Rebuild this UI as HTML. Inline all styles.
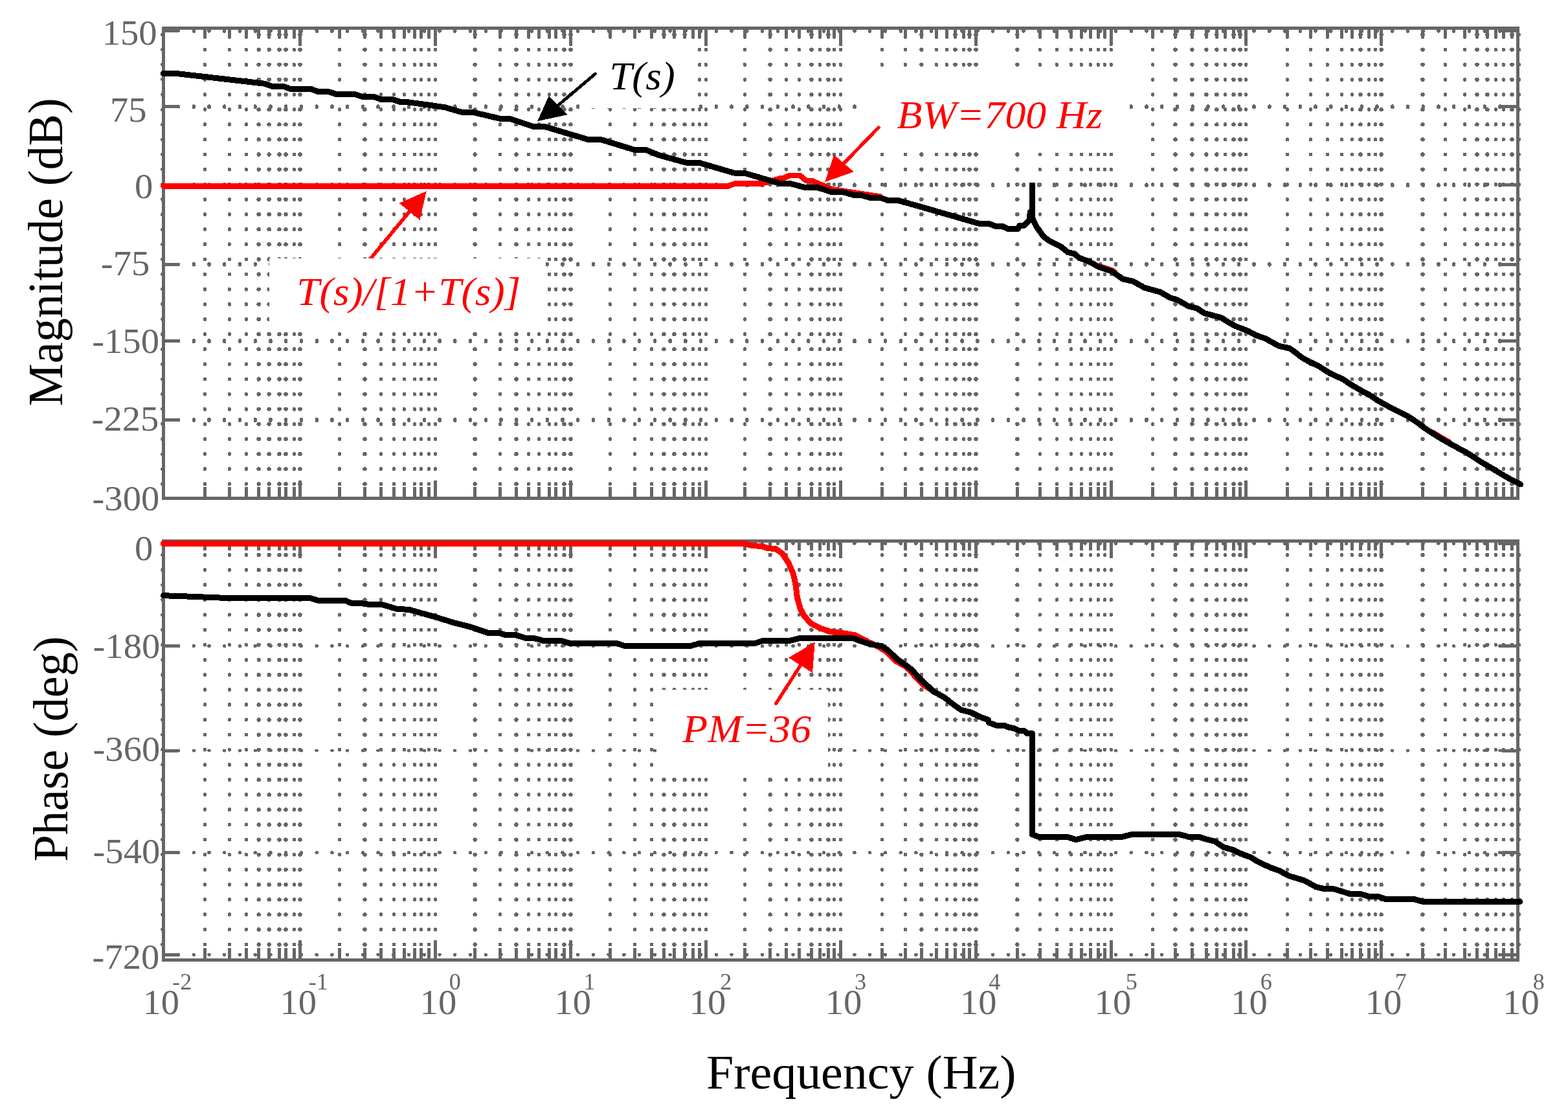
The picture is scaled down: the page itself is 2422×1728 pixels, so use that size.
<!DOCTYPE html>
<html lang="en">
<head>
<meta charset="utf-8">
<title>Bode plot</title>
<style>html,body{margin:0;padding:0;background:#fff}body{width:2422px;height:1728px;overflow:hidden}svg{display:block}text{white-space:pre}</style>
</head>
<body>
<svg width="2422" height="1728" viewBox="0 0 2422 1728" shape-rendering="crispEdges" font-family="'Liberation Serif', 'DejaVu Serif', serif">
<rect width="2422" height="1728" fill="#fff"/>
<path d="M251 53.2V763.9M316.5 53.2V763.9M354.4 53.2V763.9M380.4 53.2V763.9M454.4 53.2V763.9M524.5 53.2V763.9M588.5 53.2V763.9M608.5 53.2V763.9M624.5 53.2V763.9M640.4 53.2V763.9M650.5 53.2V763.9M662.4 53.2V763.9M672.5 53.2V763.9M772.5 53.2V763.9M816.4 53.2V763.9M832.5 53.2V763.9M848.5 53.2V763.9M858.5 53.2V763.9M942.4 53.2V763.9M980.5 53.2V763.9M1006.5 53.2V763.9M1070.5 53.2V763.9M1080.6 53.2V763.9M1090.5 53.2V763.9M1150.5 53.2V763.9M1214.5 53.2V763.9M1234.4 53.2V763.9M1266.5 53.2V763.9M1288.5 53.2V763.9M1298.5 53.2V763.9M1362.5 53.2V763.9M1398.5 53.2V763.9M1446.4 53.2V763.9M1462.5 53.2V763.9M1488.5 53.2V763.9M1606.4 53.2V763.9M1632.5 53.2V763.9M1654.5 53.2V763.9M1670.4 53.2V763.9M1684.5 53.2V763.9M1696.5 53.2V763.9M1706.5 53.2V763.9M1716.4 53.2V763.9M1780.5 53.2V763.9M1892.5 53.2V763.9M1924.6 53.2V763.9M1988.5 53.2V763.9M2024.5 53.2V763.9M2050.5 53.2V763.9M2072.5 53.2V763.9M2088.4 53.2V763.9M2114.5 53.2V763.9M2124.5 53.2V763.9M2232.5 53.2V763.9M2262.6 53.2V763.9M2310.4 53.2V763.9M2322.4 53.2V763.9M2346.3 53.2V763.9" fill="none" stroke="#666666" stroke-width="5.3" stroke-linecap="round" stroke-dasharray="0.600 22.530"/>
<path d="M399.6 53.5V763.9M415.6 53.5V763.9M431.5 53.5V763.9M441.5 53.5V763.9M463.5 53.5V763.9M563.5 53.5V763.9M733.6 53.5V763.9M797.5 53.5V763.9M871.5 53.5V763.9M881.5 53.5V763.9M1025.5 53.5V763.9M1041.5 53.5V763.9M1057.6 53.5V763.9M1189.6 53.5V763.9M1253.5 53.5V763.9M1279.5 53.5V763.9M1423.4 53.5V763.9M1475.5 53.5V763.9M1497.5 53.5V763.9M1507.5 53.5V763.9M1571.4 53.5V763.9M1815.5 53.5V763.9M1841.4 53.5V763.9M1863.4 53.5V763.9M1879.4 53.5V763.9M1905.5 53.5V763.9M1915.5 53.5V763.9M2101.5 53.5V763.9M2133.6 53.5V763.9M2197.5 53.5V763.9M2281.5 53.5V763.9M2297.4 53.5V763.9M2335.5 53.5V763.9" fill="none" stroke="#666666" stroke-width="6.4" stroke-linecap="round" stroke-dasharray="0.010 23.120"/>
<path d="M299.3 46.5v1.6M323 46.5v1.6M346.7 46.5v1.6M370.5 46.5v1.6M394.2 46.5v1.6M418 46.5v1.6M441.7 46.5v1.6M465.4 46.5v1.6M489.2 46.5v1.6M512.9 46.5v1.6M536.6 46.5v1.6M560.4 46.5v1.6M584.1 46.5v1.6M607.9 46.5v1.6M631.6 46.5v1.6M655.3 46.5v1.6M679.1 46.5v1.6M702.8 46.5v1.6M726.5 46.5v1.6M750.3 46.5v1.6M774 46.5v1.6M797.8 46.5v1.6M821.5 46.5v1.6M845.2 46.5v1.6M869 46.5v1.6M892.7 46.5v1.6M916.4 46.5v1.6M940.2 46.5v1.6M963.9 46.5v1.6M987.6 46.5v1.6M1011.4 46.5v1.6M1035.1 46.5v1.6M1058.9 46.5v1.6M1082.6 46.5v1.6M1106.3 46.5v1.6M1130.1 46.5v1.6M1153.8 46.5v1.6M1177.5 46.5v1.6M1201.3 46.5v1.6M1225 46.5v1.6M1248.8 46.5v1.6M1272.5 46.5v1.6M1296.2 46.5v1.6M1320 46.5v1.6M1343.7 46.5v1.6M1367.4 46.5v1.6M1391.2 46.5v1.6M1414.9 46.5v1.6M1438.6 46.5v1.6M1462.4 46.5v1.6M1486.1 46.5v1.6M1509.9 46.5v1.6M1533.6 46.5v1.6M1557.3 46.5v1.6M1581.1 46.5v1.6M1604.8 46.5v1.6M1628.5 46.5v1.6M1652.3 46.5v1.6M1676 46.5v1.6M1699.8 46.5v1.6M1723.5 46.5v1.6M1747.2 46.5v1.6M1771 46.5v1.6M1794.7 46.5v1.6M1818.4 46.5v1.6M1842.2 46.5v1.6M1865.9 46.5v1.6M1889.7 46.5v1.6M1913.4 46.5v1.6M1937.1 46.5v1.6M1960.9 46.5v1.6M1984.6 46.5v1.6M2008.3 46.5v1.6M2032.1 46.5v1.6M2055.8 46.5v1.6M2079.5 46.5v1.6M2103.3 46.5v1.6M2127 46.5v1.6M2150.8 46.5v1.6M2174.5 46.5v1.6M2198.2 46.5v1.6M2222 46.5v1.6M2245.7 46.5v1.6M2269.4 46.5v1.6M2293.2 46.5v1.6M2316.9 46.5v1.6M299.3 164.1v1.6M323 164.1v1.6M346.7 164.1v1.6M370.5 164.1v1.6M394.2 164.1v1.6M418 164.1v1.6M441.7 164.1v1.6M465.4 164.1v1.6M489.2 164.1v1.6M512.9 164.1v1.6M536.6 164.1v1.6M560.4 164.1v1.6M584.1 164.1v1.6M607.9 164.1v1.6M631.6 164.1v1.6M655.3 164.1v1.6M679.1 164.1v1.6M702.8 164.1v1.6M726.5 164.1v1.6M750.3 164.1v1.6M774 164.1v1.6M797.8 164.1v1.6M821.5 164.1v1.6M845.2 164.1v1.6M869 164.1v1.6M892.7 164.1v1.6M916.4 164.1v1.6M940.2 164.1v1.6M963.9 164.1v1.6M987.6 164.1v1.6M1011.4 164.1v1.6M1035.1 164.1v1.6M1058.9 164.1v1.6M1082.6 164.1v1.6M1106.3 164.1v1.6M1130.1 164.1v1.6M1153.8 164.1v1.6M1177.5 164.1v1.6M1201.3 164.1v1.6M1225 164.1v1.6M1248.8 164.1v1.6M1272.5 164.1v1.6M1296.2 164.1v1.6M1320 164.1v1.6M1343.7 164.1v1.6M1367.4 164.1v1.6M1391.2 164.1v1.6M1414.9 164.1v1.6M1438.6 164.1v1.6M1462.4 164.1v1.6M1486.1 164.1v1.6M1509.9 164.1v1.6M1533.6 164.1v1.6M1557.3 164.1v1.6M1581.1 164.1v1.6M1604.8 164.1v1.6M1628.5 164.1v1.6M1652.3 164.1v1.6M1676 164.1v1.6M1699.8 164.1v1.6M1723.5 164.1v1.6M1747.2 164.1v1.6M1771 164.1v1.6M1794.7 164.1v1.6M1818.4 164.1v1.6M1842.2 164.1v1.6M1865.9 164.1v1.6M1889.7 164.1v1.6M1913.4 164.1v1.6M1937.1 164.1v1.6M1960.9 164.1v1.6M1984.6 164.1v1.6M2008.3 164.1v1.6M2032.1 164.1v1.6M2055.8 164.1v1.6M2079.5 164.1v1.6M2103.3 164.1v1.6M2127 164.1v1.6M2150.8 164.1v1.6M2174.5 164.1v1.6M2198.2 164.1v1.6M2222 164.1v1.6M2245.7 164.1v1.6M2269.4 164.1v1.6M2293.2 164.1v1.6M2316.9 164.1v1.6M299.3 284.9v1.6M323 284.9v1.6M346.7 284.9v1.6M370.5 284.9v1.6M394.2 284.9v1.6M418 284.9v1.6M441.7 284.9v1.6M465.4 284.9v1.6M489.2 284.9v1.6M512.9 284.9v1.6M536.6 284.9v1.6M560.4 284.9v1.6M584.1 284.9v1.6M607.9 284.9v1.6M631.6 284.9v1.6M655.3 284.9v1.6M679.1 284.9v1.6M702.8 284.9v1.6M726.5 284.9v1.6M750.3 284.9v1.6M774 284.9v1.6M797.8 284.9v1.6M821.5 284.9v1.6M845.2 284.9v1.6M869 284.9v1.6M892.7 284.9v1.6M916.4 284.9v1.6M940.2 284.9v1.6M963.9 284.9v1.6M987.6 284.9v1.6M1011.4 284.9v1.6M1035.1 284.9v1.6M1058.9 284.9v1.6M1082.6 284.9v1.6M1106.3 284.9v1.6M1130.1 284.9v1.6M1153.8 284.9v1.6M1177.5 284.9v1.6M1201.3 284.9v1.6M1225 284.9v1.6M1248.8 284.9v1.6M1272.5 284.9v1.6M1296.2 284.9v1.6M1320 284.9v1.6M1343.7 284.9v1.6M1367.4 284.9v1.6M1391.2 284.9v1.6M1414.9 284.9v1.6M1438.6 284.9v1.6M1462.4 284.9v1.6M1486.1 284.9v1.6M1509.9 284.9v1.6M1533.6 284.9v1.6M1557.3 284.9v1.6M1581.1 284.9v1.6M1604.8 284.9v1.6M1628.5 284.9v1.6M1652.3 284.9v1.6M1676 284.9v1.6M1699.8 284.9v1.6M1723.5 284.9v1.6M1747.2 284.9v1.6M1771 284.9v1.6M1794.7 284.9v1.6M1818.4 284.9v1.6M1842.2 284.9v1.6M1865.9 284.9v1.6M1889.7 284.9v1.6M1913.4 284.9v1.6M1937.1 284.9v1.6M1960.9 284.9v1.6M1984.6 284.9v1.6M2008.3 284.9v1.6M2032.1 284.9v1.6M2055.8 284.9v1.6M2079.5 284.9v1.6M2103.3 284.9v1.6M2127 284.9v1.6M2150.8 284.9v1.6M2174.5 284.9v1.6M2198.2 284.9v1.6M2222 284.9v1.6M2245.7 284.9v1.6M2269.4 284.9v1.6M2293.2 284.9v1.6M2316.9 284.9v1.6M299.3 407.3v1.6M323 407.3v1.6M346.7 407.3v1.6M370.5 407.3v1.6M394.2 407.3v1.6M418 407.3v1.6M441.7 407.3v1.6M465.4 407.3v1.6M489.2 407.3v1.6M512.9 407.3v1.6M536.6 407.3v1.6M560.4 407.3v1.6M584.1 407.3v1.6M607.9 407.3v1.6M631.6 407.3v1.6M655.3 407.3v1.6M679.1 407.3v1.6M702.8 407.3v1.6M726.5 407.3v1.6M750.3 407.3v1.6M774 407.3v1.6M797.8 407.3v1.6M821.5 407.3v1.6M845.2 407.3v1.6M869 407.3v1.6M892.7 407.3v1.6M916.4 407.3v1.6M940.2 407.3v1.6M963.9 407.3v1.6M987.6 407.3v1.6M1011.4 407.3v1.6M1035.1 407.3v1.6M1058.9 407.3v1.6M1082.6 407.3v1.6M1106.3 407.3v1.6M1130.1 407.3v1.6M1153.8 407.3v1.6M1177.5 407.3v1.6M1201.3 407.3v1.6M1225 407.3v1.6M1248.8 407.3v1.6M1272.5 407.3v1.6M1296.2 407.3v1.6M1320 407.3v1.6M1343.7 407.3v1.6M1367.4 407.3v1.6M1391.2 407.3v1.6M1414.9 407.3v1.6M1438.6 407.3v1.6M1462.4 407.3v1.6M1486.1 407.3v1.6M1509.9 407.3v1.6M1533.6 407.3v1.6M1557.3 407.3v1.6M1581.1 407.3v1.6M1604.8 407.3v1.6M1628.5 407.3v1.6M1652.3 407.3v1.6M1676 407.3v1.6M1699.8 407.3v1.6M1723.5 407.3v1.6M1747.2 407.3v1.6M1771 407.3v1.6M1794.7 407.3v1.6M1818.4 407.3v1.6M1842.2 407.3v1.6M1865.9 407.3v1.6M1889.7 407.3v1.6M1913.4 407.3v1.6M1937.1 407.3v1.6M1960.9 407.3v1.6M1984.6 407.3v1.6M2008.3 407.3v1.6M2032.1 407.3v1.6M2055.8 407.3v1.6M2079.5 407.3v1.6M2103.3 407.3v1.6M2127 407.3v1.6M2150.8 407.3v1.6M2174.5 407.3v1.6M2198.2 407.3v1.6M2222 407.3v1.6M2245.7 407.3v1.6M2269.4 407.3v1.6M2293.2 407.3v1.6M2316.9 407.3v1.6M299.3 525.8v1.6M323 525.8v1.6M346.7 525.8v1.6M370.5 525.8v1.6M394.2 525.8v1.6M418 525.8v1.6M441.7 525.8v1.6M465.4 525.8v1.6M489.2 525.8v1.6M512.9 525.8v1.6M536.6 525.8v1.6M560.4 525.8v1.6M584.1 525.8v1.6M607.9 525.8v1.6M631.6 525.8v1.6M655.3 525.8v1.6M679.1 525.8v1.6M702.8 525.8v1.6M726.5 525.8v1.6M750.3 525.8v1.6M774 525.8v1.6M797.8 525.8v1.6M821.5 525.8v1.6M845.2 525.8v1.6M869 525.8v1.6M892.7 525.8v1.6M916.4 525.8v1.6M940.2 525.8v1.6M963.9 525.8v1.6M987.6 525.8v1.6M1011.4 525.8v1.6M1035.1 525.8v1.6M1058.9 525.8v1.6M1082.6 525.8v1.6M1106.3 525.8v1.6M1130.1 525.8v1.6M1153.8 525.8v1.6M1177.5 525.8v1.6M1201.3 525.8v1.6M1225 525.8v1.6M1248.8 525.8v1.6M1272.5 525.8v1.6M1296.2 525.8v1.6M1320 525.8v1.6M1343.7 525.8v1.6M1367.4 525.8v1.6M1391.2 525.8v1.6M1414.9 525.8v1.6M1438.6 525.8v1.6M1462.4 525.8v1.6M1486.1 525.8v1.6M1509.9 525.8v1.6M1533.6 525.8v1.6M1557.3 525.8v1.6M1581.1 525.8v1.6M1604.8 525.8v1.6M1628.5 525.8v1.6M1652.3 525.8v1.6M1676 525.8v1.6M1699.8 525.8v1.6M1723.5 525.8v1.6M1747.2 525.8v1.6M1771 525.8v1.6M1794.7 525.8v1.6M1818.4 525.8v1.6M1842.2 525.8v1.6M1865.9 525.8v1.6M1889.7 525.8v1.6M1913.4 525.8v1.6M1937.1 525.8v1.6M1960.9 525.8v1.6M1984.6 525.8v1.6M2008.3 525.8v1.6M2032.1 525.8v1.6M2055.8 525.8v1.6M2079.5 525.8v1.6M2103.3 525.8v1.6M2127 525.8v1.6M2150.8 525.8v1.6M2174.5 525.8v1.6M2198.2 525.8v1.6M2222 525.8v1.6M2245.7 525.8v1.6M2269.4 525.8v1.6M2293.2 525.8v1.6M2316.9 525.8v1.6M299.3 647.7v1.6M323 647.7v1.6M346.7 647.7v1.6M370.5 647.7v1.6M394.2 647.7v1.6M418 647.7v1.6M441.7 647.7v1.6M465.4 647.7v1.6M489.2 647.7v1.6M512.9 647.7v1.6M536.6 647.7v1.6M560.4 647.7v1.6M584.1 647.7v1.6M607.9 647.7v1.6M631.6 647.7v1.6M655.3 647.7v1.6M679.1 647.7v1.6M702.8 647.7v1.6M726.5 647.7v1.6M750.3 647.7v1.6M774 647.7v1.6M797.8 647.7v1.6M821.5 647.7v1.6M845.2 647.7v1.6M869 647.7v1.6M892.7 647.7v1.6M916.4 647.7v1.6M940.2 647.7v1.6M963.9 647.7v1.6M987.6 647.7v1.6M1011.4 647.7v1.6M1035.1 647.7v1.6M1058.9 647.7v1.6M1082.6 647.7v1.6M1106.3 647.7v1.6M1130.1 647.7v1.6M1153.8 647.7v1.6M1177.5 647.7v1.6M1201.3 647.7v1.6M1225 647.7v1.6M1248.8 647.7v1.6M1272.5 647.7v1.6M1296.2 647.7v1.6M1320 647.7v1.6M1343.7 647.7v1.6M1367.4 647.7v1.6M1391.2 647.7v1.6M1414.9 647.7v1.6M1438.6 647.7v1.6M1462.4 647.7v1.6M1486.1 647.7v1.6M1509.9 647.7v1.6M1533.6 647.7v1.6M1557.3 647.7v1.6M1581.1 647.7v1.6M1604.8 647.7v1.6M1628.5 647.7v1.6M1652.3 647.7v1.6M1676 647.7v1.6M1699.8 647.7v1.6M1723.5 647.7v1.6M1747.2 647.7v1.6M1771 647.7v1.6M1794.7 647.7v1.6M1818.4 647.7v1.6M1842.2 647.7v1.6M1865.9 647.7v1.6M1889.7 647.7v1.6M1913.4 647.7v1.6M1937.1 647.7v1.6M1960.9 647.7v1.6M1984.6 647.7v1.6M2008.3 647.7v1.6M2032.1 647.7v1.6M2055.8 647.7v1.6M2079.5 647.7v1.6M2103.3 647.7v1.6M2127 647.7v1.6M2150.8 647.7v1.6M2174.5 647.7v1.6M2198.2 647.7v1.6M2222 647.7v1.6M2245.7 647.7v1.6M2269.4 647.7v1.6M2293.2 647.7v1.6M2316.9 647.7v1.6" fill="none" stroke="#666666" stroke-width="5.4" stroke-linecap="round"/>
<path d="M251 856.5V1476.4M316.5 856.5V1476.4M354.4 856.5V1476.4M380.4 856.5V1476.4M454.4 856.5V1476.4M524.5 856.5V1476.4M588.5 856.5V1476.4M608.5 856.5V1476.4M624.5 856.5V1476.4M640.4 856.5V1476.4M650.5 856.5V1476.4M662.4 856.5V1476.4M672.5 856.5V1476.4M772.5 856.5V1476.4M816.4 856.5V1476.4M832.5 856.5V1476.4M848.5 856.5V1476.4M858.5 856.5V1476.4M942.4 856.5V1476.4M980.5 856.5V1476.4M1006.5 856.5V1476.4M1070.5 856.5V1476.4M1080.6 856.5V1476.4M1090.5 856.5V1476.4M1150.5 856.5V1476.4M1214.5 856.5V1476.4M1234.4 856.5V1476.4M1266.5 856.5V1476.4M1288.5 856.5V1476.4M1298.5 856.5V1476.4M1362.5 856.5V1476.4M1398.5 856.5V1476.4M1446.4 856.5V1476.4M1462.5 856.5V1476.4M1488.5 856.5V1476.4M1606.4 856.5V1476.4M1632.5 856.5V1476.4M1654.5 856.5V1476.4M1670.4 856.5V1476.4M1684.5 856.5V1476.4M1696.5 856.5V1476.4M1706.5 856.5V1476.4M1716.4 856.5V1476.4M1780.5 856.5V1476.4M1892.5 856.5V1476.4M1924.6 856.5V1476.4M1988.5 856.5V1476.4M2024.5 856.5V1476.4M2050.5 856.5V1476.4M2072.5 856.5V1476.4M2088.4 856.5V1476.4M2114.5 856.5V1476.4M2124.5 856.5V1476.4M2232.5 856.5V1476.4M2262.6 856.5V1476.4M2310.4 856.5V1476.4M2322.4 856.5V1476.4M2346.3 856.5V1476.4" fill="none" stroke="#666666" stroke-width="5.2" stroke-linecap="round" stroke-dasharray="0.700 22.440"/>
<path d="M399.6 856.9V1476.4M415.6 856.9V1476.4M431.5 856.9V1476.4M441.5 856.9V1476.4M463.5 856.9V1476.4M563.5 856.9V1476.4M733.6 856.9V1476.4M797.5 856.9V1476.4M871.5 856.9V1476.4M881.5 856.9V1476.4M1025.5 856.9V1476.4M1041.5 856.9V1476.4M1057.6 856.9V1476.4M1189.6 856.9V1476.4M1253.5 856.9V1476.4M1279.5 856.9V1476.4M1423.4 856.9V1476.4M1475.5 856.9V1476.4M1497.5 856.9V1476.4M1507.5 856.9V1476.4M1571.4 856.9V1476.4M1815.5 856.9V1476.4M1841.4 856.9V1476.4M1863.4 856.9V1476.4M1879.4 856.9V1476.4M1905.5 856.9V1476.4M1915.5 856.9V1476.4M2101.5 856.9V1476.4M2133.6 856.9V1476.4M2197.5 856.9V1476.4M2281.5 856.9V1476.4M2297.4 856.9V1476.4M2335.5 856.9V1476.4" fill="none" stroke="#666666" stroke-width="6.3" stroke-linecap="round" stroke-dasharray="0.100 23.040"/>
<path d="M299 839.2H2338.7M299 997.6H2338.7M299 1159H2338.7M299 1316.7H2338.7M299 1474.2H2338.7" fill="none" stroke="#666666" stroke-width="5" stroke-linecap="round" stroke-dasharray="0.500 23.237"/>
<path d="M568.5 404L632.5 326.7" fill="none" stroke="#ff0000" stroke-width="5.6" stroke-linecap="round"/>
<path d="M658.7 295.3L616.5 313.7L648.5 339.7Z" fill="#ff0000"/>
<rect x="900" y="66" width="175" height="100.5" fill="#fff"/>
<rect x="1338" y="110" width="398" height="117" fill="#fff"/>
<rect x="416.2" y="399.4" width="422.8" height="105.6" fill="#fff"/>
<rect x="1015" y="1065.2" width="264" height="126.8" fill="#fff"/>
<rect x="252.5" y="43.9" width="2092.1" height="726" fill="none" stroke="#666666" stroke-width="4.9"/>
<path d="M316.5 43.9V57.3M354.4 43.9V57.3M380.4 43.9V57.3M399.6 43.9V57.3M415.6 43.9V57.3M431.5 43.9V57.3M441.5 43.9V57.3M454.4 43.9V57.3M463.5 43.9V68.8M524.5 43.9V57.3M563.5 43.9V57.3M588.5 43.9V57.3M608.5 43.9V57.3M624.5 43.9V57.3M640.4 43.9V57.3M650.5 43.9V57.3M662.4 43.9V57.3M672.5 43.9V68.8M733.6 43.9V57.3M772.5 43.9V57.3M797.5 43.9V57.3M816.4 43.9V57.3M832.5 43.9V57.3M848.5 43.9V57.3M858.5 43.9V57.3M871.5 43.9V57.3M881.5 43.9V68.8M942.4 43.9V57.3M980.5 43.9V57.3M1006.5 43.9V57.3M1025.5 43.9V57.3M1041.5 43.9V57.3M1057.6 43.9V57.3M1070.5 43.9V57.3M1080.6 43.9V57.3M1090.5 43.9V68.8M1150.5 43.9V57.3M1189.6 43.9V57.3M1214.5 43.9V57.3M1234.4 43.9V57.3M1253.5 43.9V57.3M1266.5 43.9V57.3M1279.5 43.9V57.3M1288.5 43.9V57.3M1298.5 43.9V68.8M1362.5 43.9V57.3M1398.5 43.9V57.3M1423.4 43.9V57.3M1446.4 43.9V57.3M1462.5 43.9V57.3M1475.5 43.9V57.3M1488.5 43.9V57.3M1497.5 43.9V57.3M1507.5 43.9V68.8M1571.4 43.9V57.3M1606.4 43.9V57.3M1632.5 43.9V57.3M1654.5 43.9V57.3M1670.4 43.9V57.3M1684.5 43.9V57.3M1696.5 43.9V57.3M1706.5 43.9V57.3M1716.4 43.9V68.8M1780.5 43.9V57.3M1815.5 43.9V57.3M1841.4 43.9V57.3M1863.4 43.9V57.3M1879.4 43.9V57.3M1892.5 43.9V57.3M1905.5 43.9V57.3M1915.5 43.9V57.3M1924.6 43.9V68.8M1988.5 43.9V57.3M2024.5 43.9V57.3M2050.5 43.9V57.3M2072.5 43.9V57.3M2088.4 43.9V57.3M2101.5 43.9V57.3M2114.5 43.9V57.3M2124.5 43.9V57.3M2133.6 43.9V68.8M2197.5 43.9V57.3M2232.5 43.9V57.3M2262.6 43.9V57.3M2281.5 43.9V57.3M2297.4 43.9V57.3M2310.4 43.9V57.3M2322.4 43.9V57.3M2335.5 43.9V57.3" fill="none" stroke="#666666" stroke-width="5.1" stroke-linecap="round"/>
<path d="M316.5 769.9V751.5M354.4 769.9V751.5M380.4 769.9V751.5M399.6 769.9V751.5M415.6 769.9V751.5M431.5 769.9V751.5M441.5 769.9V751.5M454.4 769.9V751.5M463.5 769.9V741.7M524.5 769.9V751.5M563.5 769.9V751.5M588.5 769.9V751.5M608.5 769.9V751.5M624.5 769.9V751.5M640.4 769.9V751.5M650.5 769.9V751.5M662.4 769.9V751.5M672.5 769.9V741.7M733.6 769.9V751.5M772.5 769.9V751.5M797.5 769.9V751.5M816.4 769.9V751.5M832.5 769.9V751.5M848.5 769.9V751.5M858.5 769.9V751.5M871.5 769.9V751.5M881.5 769.9V741.7M942.4 769.9V751.5M980.5 769.9V751.5M1006.5 769.9V751.5M1025.5 769.9V751.5M1041.5 769.9V751.5M1057.6 769.9V751.5M1070.5 769.9V751.5M1080.6 769.9V751.5M1090.5 769.9V741.7M1150.5 769.9V751.5M1189.6 769.9V751.5M1214.5 769.9V751.5M1234.4 769.9V751.5M1253.5 769.9V751.5M1266.5 769.9V751.5M1279.5 769.9V751.5M1288.5 769.9V751.5M1298.5 769.9V741.7M1362.5 769.9V751.5M1398.5 769.9V751.5M1423.4 769.9V751.5M1446.4 769.9V751.5M1462.5 769.9V751.5M1475.5 769.9V751.5M1488.5 769.9V751.5M1497.5 769.9V751.5M1507.5 769.9V741.7M1571.4 769.9V751.5M1606.4 769.9V751.5M1632.5 769.9V751.5M1654.5 769.9V751.5M1670.4 769.9V751.5M1684.5 769.9V751.5M1696.5 769.9V751.5M1706.5 769.9V751.5M1716.4 769.9V741.7M1780.5 769.9V751.5M1815.5 769.9V751.5M1841.4 769.9V751.5M1863.4 769.9V751.5M1879.4 769.9V751.5M1892.5 769.9V751.5M1905.5 769.9V751.5M1915.5 769.9V751.5M1924.6 769.9V741.7M1988.5 769.9V751.5M2024.5 769.9V751.5M2050.5 769.9V751.5M2072.5 769.9V751.5M2088.4 769.9V751.5M2101.5 769.9V751.5M2114.5 769.9V751.5M2124.5 769.9V751.5M2133.6 769.9V741.7M2197.5 769.9V751.5M2232.5 769.9V751.5M2262.6 769.9V751.5M2281.5 769.9V751.5M2297.4 769.9V751.5M2310.4 769.9V751.5M2322.4 769.9V751.5M2335.5 769.9V751.5" fill="none" stroke="#666666" stroke-width="4.7"/>
<path d="M252.5 47.3H276M2344.6 47.3H2320M252.5 164.9H276M2344.6 164.9H2320M252.5 285.7H276M2344.6 285.7H2320M252.5 408.1H276M2344.6 408.1H2320M252.5 526.6H276M2344.6 526.6H2320M252.5 648.5H276M2344.6 648.5H2320" fill="none" stroke="#666666" stroke-width="5" stroke-linecap="round"/>
<rect x="252.4" y="835.3" width="2092.3" height="647.1" fill="none" stroke="#666666" stroke-width="4.9"/>
<path d="M316.5 835.3V847.3M354.4 835.3V847.3M380.4 835.3V847.3M399.6 835.3V847.3M415.6 835.3V847.3M431.5 835.3V847.3M441.5 835.3V847.3M454.4 835.3V847.3M463.5 835.3V859.1M524.5 835.3V847.3M563.5 835.3V847.3M588.5 835.3V847.3M608.5 835.3V847.3M624.5 835.3V847.3M640.4 835.3V847.3M650.5 835.3V847.3M662.4 835.3V847.3M672.5 835.3V859.1M733.6 835.3V847.3M772.5 835.3V847.3M797.5 835.3V847.3M816.4 835.3V847.3M832.5 835.3V847.3M848.5 835.3V847.3M858.5 835.3V847.3M871.5 835.3V847.3M881.5 835.3V859.1M942.4 835.3V847.3M980.5 835.3V847.3M1006.5 835.3V847.3M1025.5 835.3V847.3M1041.5 835.3V847.3M1057.6 835.3V847.3M1070.5 835.3V847.3M1080.6 835.3V847.3M1090.5 835.3V859.1M1150.5 835.3V847.3M1189.6 835.3V847.3M1214.5 835.3V847.3M1234.4 835.3V847.3M1253.5 835.3V847.3M1266.5 835.3V847.3M1279.5 835.3V847.3M1288.5 835.3V847.3M1298.5 835.3V859.1M1362.5 835.3V847.3M1398.5 835.3V847.3M1423.4 835.3V847.3M1446.4 835.3V847.3M1462.5 835.3V847.3M1475.5 835.3V847.3M1488.5 835.3V847.3M1497.5 835.3V847.3M1507.5 835.3V859.1M1571.4 835.3V847.3M1606.4 835.3V847.3M1632.5 835.3V847.3M1654.5 835.3V847.3M1670.4 835.3V847.3M1684.5 835.3V847.3M1696.5 835.3V847.3M1706.5 835.3V847.3M1716.4 835.3V859.1M1780.5 835.3V847.3M1815.5 835.3V847.3M1841.4 835.3V847.3M1863.4 835.3V847.3M1879.4 835.3V847.3M1892.5 835.3V847.3M1905.5 835.3V847.3M1915.5 835.3V847.3M1924.6 835.3V859.1M1988.5 835.3V847.3M2024.5 835.3V847.3M2050.5 835.3V847.3M2072.5 835.3V847.3M2088.4 835.3V847.3M2101.5 835.3V847.3M2114.5 835.3V847.3M2124.5 835.3V847.3M2133.6 835.3V859.1M2197.5 835.3V847.3M2232.5 835.3V847.3M2262.6 835.3V847.3M2281.5 835.3V847.3M2297.4 835.3V847.3M2310.4 835.3V847.3M2322.4 835.3V847.3M2335.5 835.3V847.3" fill="none" stroke="#666666" stroke-width="4.9" stroke-linecap="square"/>
<path d="M316.5 1482.4V1464.3M354.4 1482.4V1464.3M380.4 1482.4V1464.3M399.6 1482.4V1464.3M415.6 1482.4V1464.3M431.5 1482.4V1464.3M441.5 1482.4V1464.3M454.4 1482.4V1464.3M463.5 1482.4V1452M524.5 1482.4V1464.3M563.5 1482.4V1464.3M588.5 1482.4V1464.3M608.5 1482.4V1464.3M624.5 1482.4V1464.3M640.4 1482.4V1464.3M650.5 1482.4V1464.3M662.4 1482.4V1464.3M672.5 1482.4V1452M733.6 1482.4V1464.3M772.5 1482.4V1464.3M797.5 1482.4V1464.3M816.4 1482.4V1464.3M832.5 1482.4V1464.3M848.5 1482.4V1464.3M858.5 1482.4V1464.3M871.5 1482.4V1464.3M881.5 1482.4V1452M942.4 1482.4V1464.3M980.5 1482.4V1464.3M1006.5 1482.4V1464.3M1025.5 1482.4V1464.3M1041.5 1482.4V1464.3M1057.6 1482.4V1464.3M1070.5 1482.4V1464.3M1080.6 1482.4V1464.3M1090.5 1482.4V1452M1150.5 1482.4V1464.3M1189.6 1482.4V1464.3M1214.5 1482.4V1464.3M1234.4 1482.4V1464.3M1253.5 1482.4V1464.3M1266.5 1482.4V1464.3M1279.5 1482.4V1464.3M1288.5 1482.4V1464.3M1298.5 1482.4V1452M1362.5 1482.4V1464.3M1398.5 1482.4V1464.3M1423.4 1482.4V1464.3M1446.4 1482.4V1464.3M1462.5 1482.4V1464.3M1475.5 1482.4V1464.3M1488.5 1482.4V1464.3M1497.5 1482.4V1464.3M1507.5 1482.4V1452M1571.4 1482.4V1464.3M1606.4 1482.4V1464.3M1632.5 1482.4V1464.3M1654.5 1482.4V1464.3M1670.4 1482.4V1464.3M1684.5 1482.4V1464.3M1696.5 1482.4V1464.3M1706.5 1482.4V1464.3M1716.4 1482.4V1452M1780.5 1482.4V1464.3M1815.5 1482.4V1464.3M1841.4 1482.4V1464.3M1863.4 1482.4V1464.3M1879.4 1482.4V1464.3M1892.5 1482.4V1464.3M1905.5 1482.4V1464.3M1915.5 1482.4V1464.3M1924.6 1482.4V1452M1988.5 1482.4V1464.3M2024.5 1482.4V1464.3M2050.5 1482.4V1464.3M2072.5 1482.4V1464.3M2088.4 1482.4V1464.3M2101.5 1482.4V1464.3M2114.5 1482.4V1464.3M2124.5 1482.4V1464.3M2133.6 1482.4V1452M2197.5 1482.4V1464.3M2232.5 1482.4V1464.3M2262.6 1482.4V1464.3M2281.5 1482.4V1464.3M2297.4 1482.4V1464.3M2310.4 1482.4V1464.3M2322.4 1482.4V1464.3M2335.5 1482.4V1464.3" fill="none" stroke="#666666" stroke-width="4.7"/>
<path d="M252.4 839.2H276M2344.7 839.2H2320M252.4 997.6H276M2344.7 997.6H2320M252.4 1159H276M2344.7 1159H2320M252.4 1316.7H276M2344.7 1316.7H2320M252.4 1474.2H276M2344.7 1474.2H2320" fill="none" stroke="#666666" stroke-width="5" stroke-linecap="round"/>
<path d="M252.4 287.3L1124.7 287.3L1135.7 283.5L1177.4 283.5L1203.8 275.8L1211.5 274.7L1219.2 271L1235.6 271L1245.5 279.1L1254.3 279.1L1285.1 292.4L1302.6 294.8L1359.8 303.6" fill="none" stroke="#ff0000" stroke-width="8.6" stroke-linejoin="round" stroke-linecap="round"/>
<path d="M1701 412L1717.8 417.6L1722 420.4" fill="none" stroke="#ff0000" stroke-width="8.6" stroke-linejoin="round" stroke-linecap="round"/>
<path d="M2214.8 668.7L2223 673.9L2238.7 683" fill="none" stroke="#ff0000" stroke-width="8.6" stroke-linejoin="round" stroke-linecap="round"/>
<path d="M252.3 113.4L271.6 113.4L408.7 129.2L421 133.6L438.6 133.6L449.1 137.6L480.8 137.6L491.3 141.5L507.1 141.5L519.4 145.4L547.6 145.4L559.9 149.4L577.4 149.4L588 153.3L605.6 153.3L617.9 157.3L628.6 157.6L661.5 162L687.9 165.9L714.2 173.6L731.8 173.6L771.4 183L786.7 183L824.1 195.6L841.7 195.6L907.6 215.3L927.3 215.3L980.1 231.4L997.6 231.4L1017.4 239.5L1061.3 251.6L1080.8 251.6L1133.5 267L1148.9 267L1203.8 283L1219.2 283L1241.1 289L1260.9 289L1285.1 296.7L1302.6 296.7L1318 301.1L1329 301.1L1344.4 305.4L1359.8 305.4L1370.7 309.2L1386.1 309.2L1423.5 319.7L1511.3 345L1526.7 345L1537.4 349.3L1548.1 349.3L1556.9 353.6L1572.3 353.6L1574.5 348.7L1581.1 348.7L1589.8 340L1591.5 327L1596.4 341.1L1600.8 349.8L1611.8 365.2L1620.6 371.8L1638.2 380.6L1649.2 389.4L1660.1 392L1666.7 398.2L1682.1 403.7L1697.5 412.4L1717.3 419L1734.8 431.1L1750.2 434.4L1767.8 444.3L1792 450.9L1807.3 459.7L1818.3 463L1835.9 472.9L1849.1 476.2L1860.2 483.6L1876 487.8L1886.8 490.8L1897.1 497.4L1907.6 503.2L1928.7 511.6L1939.3 517.4L1955.1 523L1965.6 529L1976.2 534.5L1992 537.8L2000 543.7L2011.6 552.5L2022.2 558.4L2038 566.1L2053.8 576.2L2074.9 585.9L2085.5 593.2L2106.5 605.3L2117.1 610.9L2127.6 618.2L2148.7 629.9L2169.8 640.2L2180.4 646.4L2190.9 653.6L2201.3 661.6L2222.2 675.1L2243.3 687.2L2264.4 698.3L2274.9 704.9L2285.5 712L2306.5 724.4L2327.6 737L2348.8 748" fill="none" stroke="#000" stroke-width="9" stroke-linejoin="round" stroke-linecap="round"/>
<path d="M1594.7 281.8L1594.7 340" fill="none" stroke="#000" stroke-width="8.8" stroke-linejoin="round" stroke-linecap="butt"/>
<path d="M252.4 839.4L1149.1 839.4L1161.4 842.6L1176.2 843.4L1186 846.6L1198.3 847.6L1208.1 854.4L1218 869.2L1225.4 886.4L1229.1 903.7L1231.5 923.3L1236.4 940.6L1242.6 951.6L1252.4 962.7L1267.2 970.1L1282 975.5L1301.6 977.6L1321.3 981L1341.8 991.7L1358 999.5L1369.5 1006.3L1384.2 1021L1399 1029.3L1405.1 1035.3L1420.1 1051.3L1428.1 1058.8L1440 1066" fill="none" stroke="#ff0000" stroke-width="9" stroke-linejoin="round" stroke-linecap="round"/>
<path d="M252.4 919.8L272 920.3L350.7 923.5L478.7 923.5L491 927.2L532.8 927.2L542.7 931.4L559.9 931.9L569.7 933.3L589.4 933.3L614 940.7L631.2 941.2L670.6 952.3L702.6 962.1L727.2 968.3L754.3 977.4L771.5 977.4L781.3 980.8L797.2 980.8L812 985.4L824.3 985.4L839 989.3L866.1 989.3L880.9 993.5L952.2 993.5L964.5 997.2L1067.9 997.2L1080.2 993.5L1166.3 993.5L1178.6 989.3L1220.5 989.3L1235.2 985.6L1317.2 985.6L1341.8 994.1L1361.5 997.8L1371.4 1004L1386.1 1018.2L1391.7 1021.8L1407 1033L1422 1049L1430 1056.5L1442.2 1068L1458 1076.6L1472.2 1087.6L1484.5 1096.3L1499.3 1099.9L1514.1 1107.3L1526.4 1111.5L1527.6 1115.9L1538.7 1120.1L1551 1120.1L1558.4 1123.3L1565.7 1124.5L1573.1 1128.2L1581.7 1128.2L1586.7 1132.7L1594.5 1132.7L1594.5 1288.6L1605.5 1292.7L1649.8 1292.7L1662.1 1296.7L1678.1 1292.7L1732.2 1292.7L1748.2 1288.6L1822.1 1288.6L1835.6 1292.2L1851.6 1292.2L1862.7 1295.9L1876.2 1299.1L1889.7 1308.2L1904.5 1312.4L1919.3 1319.3L1931.6 1323.7L1943.9 1331.1L1963.5 1340.2L1975.8 1344.4L1990.6 1352.5L2015.2 1359.9L2032.3 1369.4L2044.6 1372.4L2058.7 1372.4L2072.7 1376.5L2085 1380.3L2100.8 1380.3L2114.9 1384.4L2129 1384.4L2141.3 1388.8L2185.2 1388.8L2197.5 1392.3L2347.8 1392.3" fill="none" stroke="#000" stroke-width="9" stroke-linejoin="round" stroke-linecap="round"/>
<path d="M919.5 114L862.1 162.6" fill="none" stroke="#000" stroke-width="4.8" stroke-linecap="round"/>
<path d="M830.2 187.1L847.8 147.9L876.5 177.2Z" fill="#000"/>
<path d="M1356.9 197L1303.5 252.2" fill="none" stroke="#ff0000" stroke-width="5.4" stroke-linecap="round"/>
<path d="M1274.3 281L1288.2 239L1318.8 265.3Z" fill="#ff0000"/>
<path d="M1198.7 1086.4L1236.5 1027.3" fill="none" stroke="#ff0000" stroke-width="5.4" stroke-linecap="round"/>
<path d="M1258.7 991.5L1218.1 1015.7L1255 1039Z" fill="#ff0000"/>
<text transform="translate(941.4 137.9) scale(1.0300 1.0000)" font-size="61" font-style="italic" fill="#000" text-anchor="start" id="a_ts">T(s)</text>
<text transform="translate(1385.5 197.6) scale(1.0450 1.0000)" font-size="61" font-style="italic" fill="#ff0000" text-anchor="start" id="a_bw">BW=700 Hz</text>
<text transform="translate(458.3 470.5) scale(1.0400 1.0000)" font-size="61" font-style="italic" fill="#ff0000" text-anchor="start" id="a_cl">T(s)/[1+T(s)]</text>
<text transform="translate(1054.3 1145.5) scale(1.0450 1.0000)" font-size="61" font-style="italic" fill="#ff0000" text-anchor="start" id="a_pm">PM=36</text>
<text transform="translate(157.7 69) scale(1.0200 1.0000)" font-size="55.5" fill="#666666" text-anchor="start" id="y0">150</text>
<text transform="translate(169.9 187.8) scale(1.0200 1.0000)" font-size="55.5" fill="#666666" text-anchor="start" id="y1">75</text>
<text transform="translate(207.9 306.4) scale(1.0200 1.0000)" font-size="55.5" fill="#666666" text-anchor="start" id="y2">0</text>
<text transform="translate(155.8 425.4) scale(1.0200 1.0000)" font-size="55.5" fill="#666666" text-anchor="start" id="y3">-75</text>
<text transform="translate(142.2 545) scale(1.0200 1.0000)" font-size="55.5" fill="#666666" text-anchor="start" id="y4">-150</text>
<text transform="translate(141.6 665) scale(1.0200 1.0000)" font-size="55.5" fill="#666666" text-anchor="start" id="y5">-225</text>
<text transform="translate(142.5 787.5) scale(1.0200 1.0000)" font-size="55.5" fill="#666666" text-anchor="start" id="y6">-300</text>
<text transform="translate(207.9 865.1) scale(1.0200 1.0000)" font-size="55.5" fill="#666666" text-anchor="start" id="y7">0</text>
<text transform="translate(143.5 1015.5) scale(1.0200 1.0000)" font-size="55.5" fill="#666666" text-anchor="start" id="y8">-180</text>
<text transform="translate(143.5 1174.5) scale(1.0200 1.0000)" font-size="55.5" fill="#666666" text-anchor="start" id="y9">-360</text>
<text transform="translate(143.5 1332.5) scale(1.0200 1.0000)" font-size="55.5" fill="#666666" text-anchor="start" id="y10">-540</text>
<text transform="translate(142.6 1495.5) scale(1.0200 1.0000)" font-size="55.5" fill="#666666" text-anchor="start" id="y11">-720</text>
<text transform="translate(220.4 1565.5) scale(1.0200 1.0000)" font-size="55.5" fill="#666666" text-anchor="start" id="x10_0">10</text>
<text transform="translate(266.1 1527.6) scale(1.0200 1.0000)" font-size="35.5" fill="#666666" text-anchor="start" id="xe_0">-2</text>
<text transform="translate(432.4 1565.5) scale(1.0200 1.0000)" font-size="55.5" fill="#666666" text-anchor="start" id="x10_1">10</text>
<text transform="translate(476.8 1527.6) scale(1.0200 1.0000)" font-size="35.5" fill="#666666" text-anchor="start" id="xe_1">-1</text>
<text transform="translate(648.6 1565.5) scale(1.0200 1.0000)" font-size="55.5" fill="#666666" text-anchor="start" id="x10_2">10</text>
<text transform="translate(693.7 1527.6) scale(1.0200 1.0000)" font-size="35.5" fill="#666666" text-anchor="start" id="xe_2">0</text>
<text transform="translate(856.5 1565.5) scale(1.0200 1.0000)" font-size="55.5" fill="#666666" text-anchor="start" id="x10_3">10</text>
<text transform="translate(901.6 1527.6) scale(1.0200 1.0000)" font-size="35.5" fill="#666666" text-anchor="start" id="xe_3">1</text>
<text transform="translate(1064.8 1565.5) scale(1.0200 1.0000)" font-size="55.5" fill="#666666" text-anchor="start" id="x10_4">10</text>
<text transform="translate(1112.2 1527.6) scale(1.0200 1.0000)" font-size="35.5" fill="#666666" text-anchor="start" id="xe_4">2</text>
<text transform="translate(1274.7 1565.5) scale(1.0200 1.0000)" font-size="55.5" fill="#666666" text-anchor="start" id="x10_5">10</text>
<text transform="translate(1320.1 1527.6) scale(1.0200 1.0000)" font-size="35.5" fill="#666666" text-anchor="start" id="xe_5">3</text>
<text transform="translate(1482.9 1565.5) scale(1.0200 1.0000)" font-size="55.5" fill="#666666" text-anchor="start" id="x10_6">10</text>
<text transform="translate(1527.2 1527.6) scale(1.0200 1.0000)" font-size="35.5" fill="#666666" text-anchor="start" id="xe_6">4</text>
<text transform="translate(1690.6 1565.5) scale(1.0200 1.0000)" font-size="55.5" fill="#666666" text-anchor="start" id="x10_7">10</text>
<text transform="translate(1738.8 1527.6) scale(1.0200 1.0000)" font-size="35.5" fill="#666666" text-anchor="start" id="xe_7">5</text>
<text transform="translate(1901.1 1565.5) scale(1.0200 1.0000)" font-size="55.5" fill="#666666" text-anchor="start" id="x10_8">10</text>
<text transform="translate(1946.7 1527.6) scale(1.0200 1.0000)" font-size="35.5" fill="#666666" text-anchor="start" id="xe_8">6</text>
<text transform="translate(2108.8 1565.5) scale(1.0200 1.0000)" font-size="55.5" fill="#666666" text-anchor="start" id="x10_9">10</text>
<text transform="translate(2154.8 1527.6) scale(1.0200 1.0000)" font-size="35.5" fill="#666666" text-anchor="start" id="xe_9">7</text>
<text transform="translate(2321.1 1565.5) scale(1.0200 1.0000)" font-size="55.5" fill="#666666" text-anchor="start" id="x10_10">10</text>
<text transform="translate(2367.7 1527.6) scale(1.0200 1.0000)" font-size="35.5" fill="#666666" text-anchor="start" id="xe_10">8</text>
<text transform="translate(95.9 627.2) rotate(-90) scale(1.0000 1.0120)" font-size="74.2" fill="#000" text-anchor="start" id="l_mag">Magnitude (dB)</text>
<text transform="translate(103.9 1330.6) rotate(-90) scale(1.0000 1.0120)" font-size="74.2" fill="#000" text-anchor="start" id="l_ph">Phase (deg)</text>
<text transform="translate(1090.9 1681.1) scale(1.0130 1.0000)" font-size="75" fill="#000" text-anchor="start" id="l_fr">Frequency (Hz)</text>
</svg>
</body>
</html>
